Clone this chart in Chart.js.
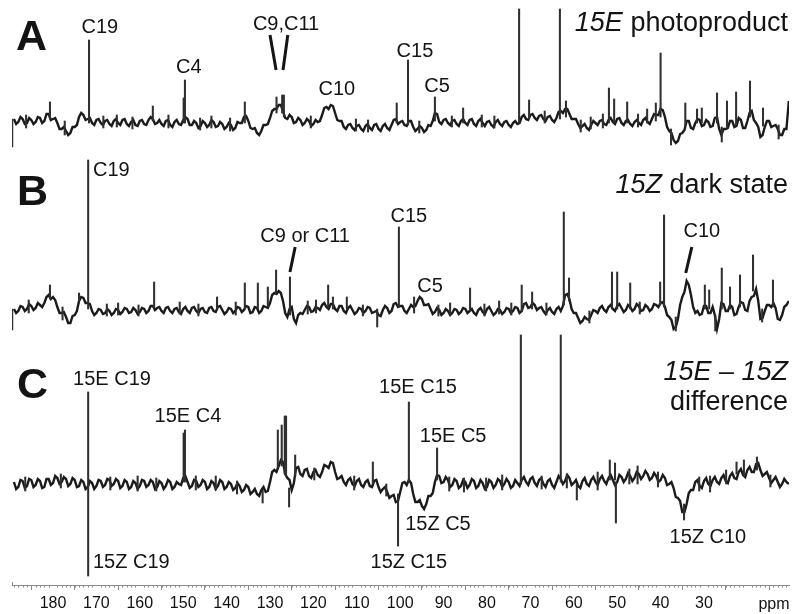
<!DOCTYPE html>
<html><head><meta charset="utf-8">
<script src="https://cdn.jsdelivr.net/npm/chart.js@4.4.1/dist/chart.umd.min.js"></script>
<style>html,body{margin:0;padding:0;background:#fff;}canvas{display:block;}</style>
</head><body>
<canvas id="c" width="797" height="614"></canvas>
<script>
// ---------- DATA (ppm positions and intensities) ----------
const ppmGrid = [
 189,188,187,186,185,184,183,182,181,180,
 179,178,177,176,175,174,173,172,171,170,
 169,168,167,166,165,164,163,162,161,160,
 159,158,157,156,155,154,153,152,151,150,
 149,148,147,146,145,144,143,142,141,140,
 139,138,137,136,135,134,133,132,131,130,
 129,128,127,126,125,124,123,122,121,120,
 119,118,117,116,115,114,113,112,111,110,
 109,108,107,106,105,104,103,102,101,100,
 99,98,97,96,95,94,93,92,91,90,
 89,88,87,86,85,84,83,82,81,80,
 79,78,77,76,75,74,73,72,71,70,
 69,68,67,66,65,64,63,62,61,60,
 59,58,57,56,55,54,53,52,51,50,
 49,48,47,46,45,44,43,42,41,40,
 39,38,37,36,35,34,33,32,31,30,
 29,28,27,26,25,24,23,22,21,20,
 19,18,17,16,15,14,13,12,11,10.45
];
const ppmMid = [
 188.5,187.5,186.5,185.5,184.5,183.5,182.5,181.5,180.5,179.5,
 178.5,177.5,176.5,175.5,174.5,173.5,172.5,171.5,170.5,169.5,
 168.5,167.5,166.5,165.5,164.5,163.5,162.5,161.5,160.5,159.5,
 158.5,157.5,156.5,155.5,154.5,153.5,152.5,151.5,150.5,149.5,
 148.5,147.5,146.5,145.5,144.5,143.5,142.5,141.5,140.5,139.5,
 138.5,137.5,136.5,135.5,134.5,133.5,132.5,131.5,130.5,129.5,
 128.5,127.5,126.5,125.5,124.5,123.5,122.5,121.5,120.5,119.5,
 118.5,117.5,116.5,115.5,114.5,113.5,112.5,111.5,110.5,109.5,
 108.5,107.5,106.5,105.5,104.5,103.5,102.5,101.5,100.5,99.5,
 98.5,97.5,96.5,95.5,94.5,93.5,92.5,91.5,90.5,89.5,
 88.5,87.5,86.5,85.5,84.5,83.5,82.5,81.5,80.5,79.5,
 78.5,77.5,76.5,75.5,74.5,73.5,72.5,71.5,70.5,69.5,
 68.5,67.5,66.5,65.5,64.5,63.5,62.5,61.5,60.5,59.5,
 58.5,57.5,56.5,55.5,54.5,53.5,52.5,51.5,50.5,49.5,
 48.5,47.5,46.5,45.5,44.5,43.5,42.5,41.5,40.5,39.5,
 38.5,37.5,36.5,35.5,34.5,33.5,32.5,31.5,30.5,29.5,
 28.5,27.5,26.5,25.5,24.5,23.5,22.5,21.5,20.5,19.5,
 18.5,17.5,16.5,15.5,14.5,13.5,12.5,11.5
];
// A: 15E photoproduct
const traceA = [
 4,1,4,0,3,1,5,2,9,4,
 0,-6,-8,-10,-4,6,8,4,0,3,
 0,2,-1,2,0,3,-1,1,-2,2,
 -1,3,4,0,-1,2,-2,1,-1,3,
 4,-2,0,-3,0,-2,1,-3,-1,-4,
 -2,-5,0,6,2,-6,-10,-8,-2,5,
 14,18,12,4,6,1,3,0,2,-1,
 1,8,16,18,10,2,-4,-2,-5,-3,
 -6,-3,-5,-2,-6,-3,-5,-2,4,1,
 -2,2,-4,-6,-5,-7,-3,10,1,3,
 0,2,-1,2,0,3,-1,2,0,1,
 -2,1,-1,1,-2,0,-1,6,4,8,
 5,7,4,6,3,5,12,14,9,4,
 -1,-3,-5,-2,0,2,-1,3,1,4,
 0,2,-1,1,0,3,1,4,8,14,
 6,-8,-17,-18,-10,2,-5,0,3,-2,
 1,-3,6,-12,-6,2,-4,5,-5,2,
 12,0,-14,-4,2,-3,-6,-12,-6,22
];
const midA = [
 -1,6,-1,5,-1,6,0,9,3,5,
 -6,-4,-12,-4,-2,10,3,5,-2,4,
 -2,3,-3,4,-2,4,-3,3,-3,3,
 -2,6,-1,3,-3,3,-4,3,-2,6,
 -2,2,-5,2,-4,3,-4,1,-6,0,
 -7,1,0,7,-5,-5,-12,-2,-1,12,
 14,18,5,8,0,5,-2,4,-3,3,
 2,15,14,17,3,2,-6,-1,-7,-2,
 -8,-1,-7,-1,-8,-1,-7,3,-1,2,
 -3,2,-8,-3,-9,-2,2,9,-1,4,
 -2,3,-3,4,-2,4,-3,4,-3,2,
 -4,3,-3,2,-4,2,0,8,3,9,
 3,8,2,7,1,11,10,14,4,4,
 -5,-1,-7,2,-2,3,-2,5,-1,5,
 -2,3,-3,3,-2,5,-1,9,8,13,
 -4,-10,-20,-11,-7,2,-6,4,-3,3,
 -4,5,-6,-6,-5,2,-3,3,-5,10,
 3,-4,-12,2,-4,-2,-12,-6
];
// B: 15Z dark state
const traceB = [
 0,-2,2,0,3,1,4,6,14,12,
 2,-4,-8,-14,-6,8,11,6,-2,-4,
 -1,-4,-2,-4,-1,-3,0,-3,-1,-3,
 0,-2,3,1,-2,1,-2,0,-3,0,
 -2,1,-2,0,-3,1,-2,2,-1,-3,
 0,-2,1,-1,2,-3,1,-2,2,6,
 16,18,8,-8,2,-14,-4,-1,2,-2,
 1,4,2,5,0,3,-2,1,-1,-3,
 0,-2,1,-3,-6,-1,1,-2,6,3,
 -2,0,2,8,10,4,0,-3,-1,-4,
 -2,-4,-1,-3,0,-2,-4,-1,-3,0,
 -2,-4,-1,-3,0,-2,1,-2,6,2,
 4,1,-2,-1,-3,0,-2,14,10,-4,
 -9,-12,-10,-6,-2,1,-1,2,0,3,
 1,-1,2,0,3,-1,2,0,4,6,
 2,-8,-20,-10,12,28,14,-4,-6,3,
 -4,2,-20,6,-2,4,-6,2,6,-2,
 12,20,-10,-2,4,6,-10,-6,4,8
];
const midB = [
 -4,3,-2,5,-1,6,2,12,10,9,
 -4,-3,-14,-7,-2,12,6,5,-6,0,
 -5,0,-6,0,-5,1,-4,1,-5,1,
 -4,3,-1,2,-4,2,-4,1,-5,2,
 -4,2,-4,1,-4,2,-3,3,-5,1,
 -4,2,-3,3,-4,2,-4,3,1,14,
 15,16,-4,0,-10,-6,-5,3,-3,2,
 -1,6,0,5,-2,3,-4,3,-5,1,
 -4,2,-4,-2,-7,3,-4,5,2,3,
 -4,4,3,12,4,5,-5,1,-6,0,
 -6,0,-5,1,-4,0,-6,1,-5,2,
 -6,0,-5,1,-4,2,-4,5,1,6,
 -1,2,-5,1,-5,2,3,15,0,-4,
 -14,-8,-11,-1,-4,3,-3,4,-2,5,
 -3,4,-2,5,-2,4,-2,5,2,7,
 -6,-11,-18,4,17,24,2,-2,-5,3,
 -4,-6,-10,5,-2,2,-5,7,-1,8,
 13,8,-9,4,2,1,-11,2
];
// C: 15E - 15Z difference
const traceC = [
 2,-3,3,-2,4,-1,3,-3,5,1,
 6,2,5,0,4,-2,2,-3,1,-2,
 3,-1,4,0,3,-2,2,-3,1,-2,
 3,-1,2,-3,1,-2,2,-3,0,6,
 2,-2,3,-1,2,-3,1,-2,2,-3,
 0,-4,-2,-6,-3,-8,-10,-6,-8,2,
 14,18,22,6,-6,16,10,14,8,12,
 9,12,18,22,12,6,2,4,0,3,
 -1,2,-2,3,-3,-5,-8,-12,-18,-8,
 2,4,-10,-18,-22,-20,-12,2,8,2,
 4,-1,3,-2,2,-1,3,-2,1,-3,
 2,-1,3,0,2,-2,1,4,2,5,
 1,4,0,3,-1,2,5,3,6,1,
 -2,3,0,4,2,5,3,6,4,2,
 7,5,8,6,10,8,10,6,8,4,
 6,0,-4,-14,-28,-20,-6,2,-2,3,
 0,4,2,6,3,8,6,12,9,14,
 12,20,14,10,6,4,2,0,2,0
];
const midC = [
 -5,4,-4,5,-3,5,-4,5,-1,8,
 0,7,-2,6,-3,4,-5,3,-5,4,
 -3,5,-2,5,-4,4,-5,3,-5,4,
 -3,4,-5,3,-5,4,-5,2,-1,8,
 -4,4,-3,4,-5,3,-5,4,-5,2,
 -6,1,-8,-1,-10,-5,-12,-3,-7,12,
 12,24,10,4,1,17,8,15,6,14,
 7,19,16,21,5,8,-1,6,-2,5,
 -3,4,-3,4,-8,-3,-14,-11,-17,1,
 -1,1,-18,-16,-25,-12,-9,9,1,7,
 -3,5,-4,4,-4,5,-4,4,-5,4,
 -4,5,-3,5,-4,4,-2,7,-1,7,
 -2,6,-3,5,-4,8,0,9,-1,4,
 -4,6,-2,7,-1,8,0,9,-1,9,
 2,11,3,12,5,13,4,11,2,9,
 -1,2,-13,-17,-28,-9,-6,4,-4,6,
 -2,7,0,9,1,11,5,15,7,17,
 12,21,8,12,1,7,-3,5
];
// narrow lines: [ppm, low, high]
const spikesA = [
 [189.4,-24,4],[186.2,-5,8],[180.7,4,21],[177.3,-12,2],[171.7,0,83],[168.4,-5,7],[165.3,-4,8],
 [161.7,-6,6],[157.0,2,17],[153.4,-5,8],[149.9,0,25],[149.6,0,43],[146.1,-7,5],[143.5,-5,7],
 [139.2,-8,5],[135.8,0,21],[128.5,10,26],[127.2,10,28],[126.8,6,28],[120.6,-5,7],[110.2,-8,4],
 [107.4,-9,3],[100.8,0,20],[98.2,-2,63],[95.6,-10,2],[92.0,2,26],[88.1,-4,7],[85.5,0,15],
 [81.2,-4,8],[78.3,-5,7],[72.6,0,114],[70.3,4,23],[66.7,0,12],[63.2,4,114],[61.8,6,22],
 [58.4,-9,3],[56.1,-6,6],[53.3,-5,9],[51.9,0,35],[50.7,0,24],[47.7,0,21],[45.2,-4,9],
 [43.1,0,14],[41.1,2,20],[40.0,6,70],[37.6,-22,-6],[34.3,-2,20],[31.6,0,14],[30.5,0,15],
 [27.0,0,30],[25.9,-19,-4],[24.7,-4,22],[22.6,-2,31],[19.4,6,42],[16.4,-3,15],[12.8,-16,-2]
];
const spikesB = [
 [189.4,-21,0],[185.6,-4,9],[180.7,10,24],[177.8,-11,2],[174.0,8,16],[171.9,0,149],
 [167.6,-7,5],[165.0,-6,6],[160.3,-7,4],[156.7,1,27],[150.8,-5,7],[146.5,-7,5],[142.2,0,12],
 [137.9,-6,7],[135.8,0,26],[132.8,0,26],[130.5,2,22],[128.6,16,39],[125.4,-6,32],
 [121.3,-5,8],[119.4,-4,9],[116.6,2,24],[115.5,0,12],[112.3,0,12],[108.6,-7,4],[105.3,-18,0],
 [100.3,2,82],[96.8,-4,12],[91.2,-7,4],[88.5,-6,6],[83.9,-2,21],[80.6,-7,5],[77.2,-5,8],
 [74.4,-6,6],[72.0,-2,24],[69.6,0,17],[66.3,-6,6],[62.3,4,97],[61.1,8,31],[56.4,-14,-2],
 [51.2,0,37],[50.0,0,37],[47.0,0,26],[44.8,-5,7],[40.1,4,27],[39.2,2,94],[36.5,-22,-8],
 [29.8,0,24],[28.8,0,19],[27.4,-22,-6],[25.9,0,41],[24.0,0,22],[21.7,2,34],[18.7,18,54],
 [16.6,-13,0],[14.1,2,29]
];
const spikesC = [
 [186.4,-7,7],[178.2,-4,10],[171.9,-92,92],[166.8,-6,7],[160.5,-7,8],[156.2,-7,6],
 [149.9,2,51],[149.6,2,54],[147.1,-6,8],[142.5,-6,8],[137.6,-10,3],[131.7,-19,-6],
 [128.2,16,54],[127.3,18,59],[126.6,10,68],[126.3,8,68],[125.6,-23,-4],[124.2,8,29],
 [119.8,4,16],[110.6,-6,8],[106.3,0,22],[103.2,-12,0],[100.5,-62,-10],[98.0,2,82],
 [91.5,4,36],[88.7,-7,7],[85.3,-8,6],[80.2,-7,6],[76.5,-6,9],[72.2,0,149],[67.4,-5,8],
 [63.0,2,149],[61.6,-4,10],[59.3,-16,0],[54.5,-6,12],[51.7,4,24],[50.5,4,21],[50.3,-39,2],
 [47.2,0,15],[45.3,0,18],[40.6,-3,12],[34.6,-36,-20],[31.1,-7,7],[28.6,-8,8],[24.9,0,14],
 [22.5,10,22],[20.8,8,24],[17.8,14,27],[14.7,-3,9]
];
const tickValues = [180,170,160,150,140,130,120,110,100,90,80,70,60,50,40,30,20];
const tickLabels = ['180','170','160','150','140','130','120','110','100','90','80','70','60','50','40','30',''];

// ---------- LAYOUT ----------
const OFF = {A:462, B:276, C:101};
const FAM = '"Liberation Sans", Arial, Helvetica, sans-serif';
const INK = '#141414';

function lineDs(vals, mids, off){
  const pts = ppmGrid.map((p,i)=>({x:p, y:off+vals[i]}))
    .concat(ppmMid.map((p,i)=>({x:p, y:off+mids[i]})))
    .sort((a,b)=>b.x-a.x);
  return {type:'line', data: pts, borderColor:'#1b1b1b', borderWidth:2.4, pointRadius:0,
    tension:0, order:2};
}
function spikeDs(sp, off){
  return {type:'bar', data: sp.map(s=>({x:s[0], y:[off+s[1], off+s[2]]})),
    backgroundColor:'#303030', borderWidth:0, barThickness:1.4, grouped:false, order:1};
}

// annotation text: [panel, text, ppm, v, align, kind]
const notes = [
 ['A','A',188.5,73,'left','panel'],
 ['A','C19',169.2,90,'center','lab'],
 ['A','C4',148.7,50,'center','lab'],
 ['A','C9,C11',126.3,93,'center','lab'],
 ['A','C10',114.6,28,'center','lab'],
 ['A','C15',96.6,66,'center','lab'],
 ['A','C5',91.5,31,'center','lab'],
 ['B','B',188.3,104,'left','panel'],
 ['B','C19',170.8,133,'left','lab'],
 ['B','C9 or C11',121.9,67,'center','lab'],
 ['B','C15',98.0,87,'center','lab'],
 ['B','C5',93.1,17,'center','lab'],
 ['B','C10',30.5,72,'center','lab'],
 ['C','C',188.3,86,'left','panel'],
 ['C','15E C19',166.4,99,'center','lab'],
 ['C','15E C4',148.9,62,'center','lab'],
 ['C','15Z C19',170.8,-84,'left','lab'],
 ['C','15E C15',95.9,91,'center','lab'],
 ['C','15E C5',87.8,42,'center','lab'],
 ['C','15Z C5',91.3,-46,'center','lab'],
 ['C','15Z C15',98.0,-84,'center','lab'],
 ['C','15Z C10',29.1,-59,'center','lab'],
 ['C','difference',10.41,74,'right','title']
];
// leader lines: [panel, ppm1, v1, ppm2, v2]
const leaders = [
 ['A',130.0,88,128.6,53],
 ['A',125.9,88,127.0,53],
 ['B',124.2,62,125.4,37],
 ['B',32.8,62,34.2,36]
];
// mixed italic titles: [panel, italicPart, normalPart, v]
const titles = [
 ['A','15E',' photoproduct',92],
 ['B','15Z',' dark state',116],
 ['C','15E \u2013 15Z','',104]
];

const annotate = {
  id:'annotate',
  afterDatasetsDraw(chart){
    const ctx = chart.ctx, xs = chart.scales.x, ys = chart.scales.y;
    const X = p => xs.getPixelForValue(p);
    const Y = (k,v) => ys.getPixelForValue(OFF[k]+v);
    ctx.save();
    ctx.fillStyle = INK; ctx.strokeStyle = INK; ctx.textBaseline = 'alphabetic';
    for (const n of notes){
      ctx.font = n[5]==='panel' ? 'bold 43px '+FAM : n[5]==='title' ? '27px '+FAM : '20px '+FAM;
      ctx.textAlign = n[4];
      ctx.fillText(n[1], X(n[2]) - (n[4]==='right' ? 1 : 0), Y(n[0], n[3]));
    }
    ctx.lineWidth = 3; ctx.lineCap = 'butt';
    for (const l of leaders){
      ctx.beginPath(); ctx.moveTo(X(l[1]), Y(l[0],l[2])); ctx.lineTo(X(l[3]), Y(l[0],l[4])); ctx.stroke();
    }
    const xr = X(10.41) - 1;
    for (const t of titles){
      ctx.textAlign = 'left';
      ctx.font = '27px '+FAM; const w2 = ctx.measureText(t[2]).width;
      ctx.font = 'italic 27px '+FAM; const w1 = ctx.measureText(t[1]).width;
      const x0 = xr - w1 - w2, y0 = Y(t[0], t[3]);
      ctx.fillText(t[1], x0, y0);
      ctx.font = '27px '+FAM; ctx.fillText(t[2], x0 + w1, y0);
    }
    // minor ticks every ppm
    const yb = chart.chartArea.bottom;
    ctx.strokeStyle = '#8a8a8a'; ctx.lineWidth = 1;
    ctx.beginPath();
    for (let p = 11; p <= 189; p++){
      if (p % 10 === 0) continue;
      const x = Math.round(X(p)) + 0.5;
      ctx.moveTo(x, yb); ctx.lineTo(x, yb + 2.5);
    }
    const xl = Math.round(chart.chartArea.left) + 0.5;
    ctx.moveTo(xl, yb - 3); ctx.lineTo(xl, yb + 0.5);
    ctx.stroke();
    ctx.fillStyle = '#111'; ctx.font = '16px '+FAM; ctx.textAlign = 'center'; ctx.textBaseline = 'alphabetic';
    ctx.fillText('ppm', 774, 609);
    ctx.restore();
  }
};

new Chart(document.getElementById('c'), {
  type:'line',
  data:{datasets:[
    lineDs(traceA, midA, OFF.A), spikeDs(spikesA, OFF.A),
    lineDs(traceB, midB, OFF.B), spikeDs(spikesB, OFF.B),
    lineDs(traceC, midC, OFF.C), spikeDs(spikesC, OFF.C)
  ]},
  options:{
    responsive:false, animation:false, devicePixelRatio:1,
    layout:{padding:{left:12, right:8, top:0, bottom:0}},
    plugins:{legend:{display:false}, tooltip:{enabled:false}},
    scales:{
      x:{type:'linear', reverse:true, min:10.41, max:189.45, offset:false,
        afterBuildTicks: s => { s.ticks = tickValues.map(v => ({value:v})); },
        afterFit: s => { s.height = 29; },
        ticks:{autoSkip:false, maxRotation:0, padding:4, color:'#111',
          font:{family:FAM, size:16}, callback:(v,i)=>tickLabels[i]},
        grid:{drawOnChartArea:false, drawTicks:true, tickLength:5, color:'#8a8a8a'},
        border:{display:true, color:'#8a8a8a', width:1}
      },
      y:{display:false, min:0, max:585}
    }
  },
  plugins:[annotate]
});
</script>
</body></html>
